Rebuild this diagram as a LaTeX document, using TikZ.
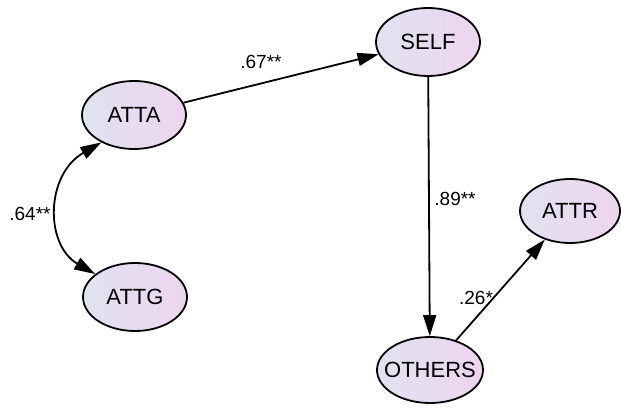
\documentclass[tikz,border=0pt]{standalone}
\usepackage{fontspec}
\setmainfont{Liberation Sans}
\usetikzlibrary{arrows.meta,shapes.geometric}
\definecolor{fillA}{RGB}{224,227,240}
\definecolor{fillB}{RGB}{238,212,240}
\tikzset{
  lat/.style={ellipse, draw=black, line width=1.8pt, minimum width=104pt, minimum height=68pt,
    left color=fillA, right color=fillB, font=\fontsize{22}{22}\selectfont, inner sep=0pt},
  path/.style={line width=1.8pt, -{Triangle[length=21pt,width=13pt]}},
  cov/.style={line width=1.8pt, {Triangle[length=21pt,width=13pt]}-{Triangle[length=21pt,width=13pt]}},
  lbl/.style={font=\fontsize{19}{19}\selectfont, inner sep=0pt}
}
\begin{document}
\begin{tikzpicture}[x=1pt,y=-1pt]
\useasboundingbox (0,0) rectangle (621,414);
\node[lat] (atta) at (134,115) {ATTA};
\node[lat] (self) at (428,42) {SELF};
\node[lat] (attg) at (135,297) {ATTG};
\node[lat, minimum width=100pt, minimum height=64pt] (attr) at (570,211) {ATTR};
\node[lat, inner xsep=-10pt, minimum width=106pt, minimum height=66pt] (others) at (430,370) {OTHERS};
\draw[path] (atta) -- (self);
\draw[path] (self) -- (others);
\draw[path] (others) -- (attr);
\draw[cov] (atta.220) .. controls (45,175) and (45,245) .. (attg.150);
\node[lbl] (l67) at (261,62) {.67**};
\node[lbl] (l89) at (455,199) {.89**};
\node[lbl] (l26) at (476,298) {.26*};
\node[lbl] (l64) at (30,214) {.64**};
\end{tikzpicture}
\end{document}
